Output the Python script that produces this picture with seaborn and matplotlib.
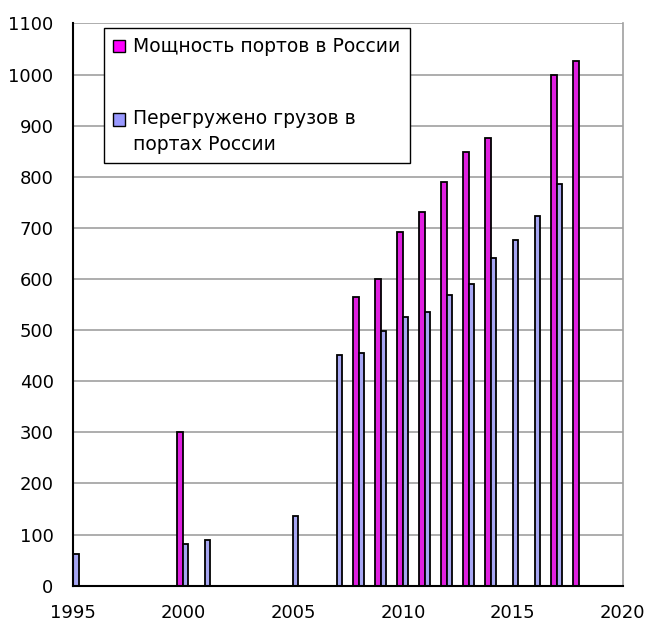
import numpy as np
import pandas as pd
import matplotlib
matplotlib.use("Agg")
import matplotlib.pyplot as plt
import seaborn as sns
from matplotlib.patches import Patch

cap_years = [2000, 2008, 2009, 2010, 2011, 2012, 2013, 2014, 2017, 2018]
cap_values = [300, 564, 600, 692, 731, 790, 849, 875, 1000, 1027]
cargo_years = [1995, 2000, 2001, 2005, 2007, 2008, 2009, 2010, 2011, 2012,
               2013, 2014, 2015, 2016, 2017]
cargo_values = [62, 81, 90, 136, 451, 455, 498, 525, 536, 568,
                591, 642, 677, 723, 786]
series_names = ["Мощность портов в России", "Перегружено грузов в портах России"]
legend_labels = ["Мощность портов в России", "Перегружено грузов в\nпортах России"]
colors = ["#FF00FF", "#9999FF"]

df = pd.concat([
    pd.DataFrame({"year": cap_years, "value": cap_values, "series": series_names[0]}),
    pd.DataFrame({"year": cargo_years, "value": cargo_values, "series": series_names[1]}),
], ignore_index=True)

sns.set_style("white")
plt.rcParams["font.family"] = ["DejaVu Sans"]
plt.rcParams["text.color"] = "black"
plt.rcParams["xtick.color"] = "black"
plt.rcParams["ytick.color"] = "black"

fig = plt.figure(figsize=(6.48, 6.26), dpi=100)
ax = fig.add_axes([0.1127, 0.0644, 0.961 - 0.1127, 0.9626 - 0.0644])

sns.barplot(data=df, x="year", y="value", hue="series", hue_order=series_names,
            palette=colors, native_scale=True, width=0.5, dodge=True,
            edgecolor="black", linewidth=1.3, errorbar=None, legend=False, ax=ax)

ax.set_xlim(1995, 2020)
ax.set_ylim(0, 1100)
ax.set_xticks(range(1995, 2021, 5))
ax.set_yticks(range(0, 1101, 100))
ax.set_xlabel("")
ax.set_ylabel("")
ax.set_axisbelow(True)
ax.yaxis.grid(True, color="#A0A0A0", linewidth=1.2)
ax.xaxis.grid(False)

for s in ["left", "bottom"]:
    ax.spines[s].set_color("black")
    ax.spines[s].set_linewidth(1.5)
ax.spines["right"].set_visible(True)
ax.spines["right"].set_color("#A0A0A0")
ax.spines["right"].set_linewidth(1.2)
ax.spines["top"].set_visible(False)

ax.tick_params(axis="both", direction="out", length=5, width=1.2, color="black",
               labelcolor="black", labelsize=13)
ax.tick_params(axis="y", pad=9)
ax.tick_params(axis="x", pad=8)

handles = [Patch(facecolor=c, edgecolor="black", linewidth=1.0) for c in colors]
leg = ax.legend(handles, legend_labels, loc="upper left",
                bbox_to_anchor=(0.0564, 0.992), prop={"size": 13.5}, frameon=True,
                fancybox=False, shadow=False, framealpha=1, edgecolor="black",
                handlelength=0.62, handleheight=0.62, handletextpad=0.45,
                labelspacing=2.8, borderpad=0.5, borderaxespad=0)
leg.get_frame().set_linewidth(1.0)
for t in leg.get_texts():
    t.set_linespacing(1.45)
    t.set_color("black")
h2 = leg.legend_handles[1]
h2.set_y(h2.get_y() + 9.0)

fig.savefig("out.png", dpi=100)
